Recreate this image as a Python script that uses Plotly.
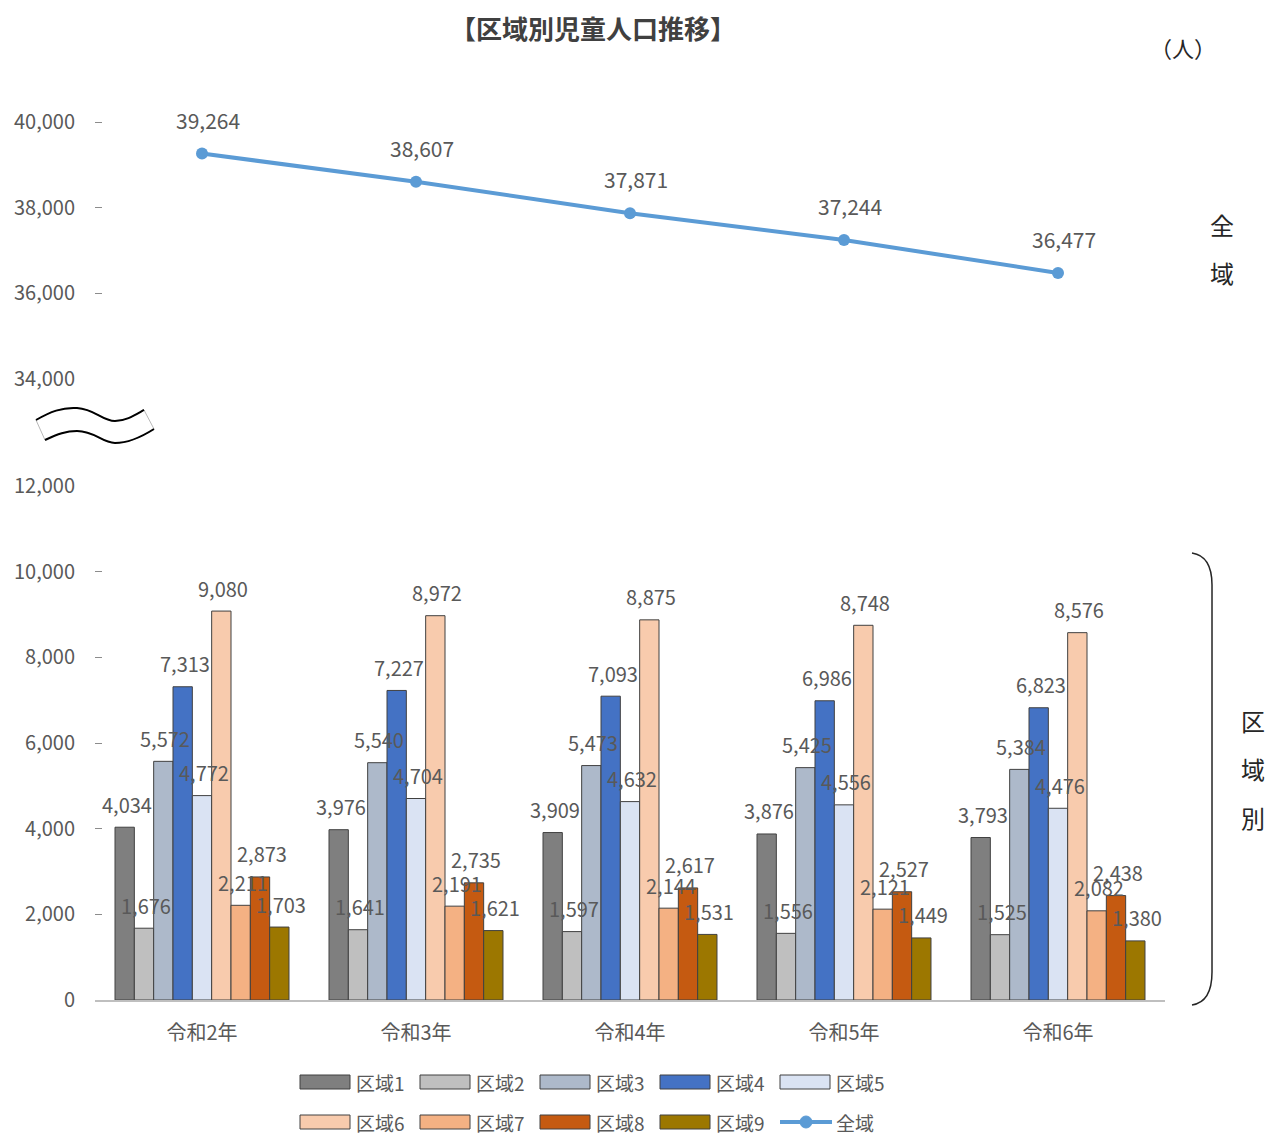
import plotly.graph_objects as go

years = ["令和2年", "令和3年", "令和4年", "令和5年", "令和6年"]
area_names = ["区域1", "区域2", "区域3", "区域4", "区域5", "区域6", "区域7", "区域8", "区域9"]
area1 = [4034, 3976, 3909, 3876, 3793]
area2 = [1676, 1641, 1597, 1556, 1525]
area3 = [5572, 5540, 5473, 5425, 5384]
area4 = [7313, 7227, 7093, 6986, 6823]
area5 = [4772, 4704, 4632, 4556, 4476]
area6 = [9080, 8972, 8875, 8748, 8576]
area7 = [2211, 2191, 2144, 2121, 2082]
area8 = [2873, 2735, 2617, 2527, 2438]
area9 = [1703, 1621, 1531, 1449, 1380]
total = [39264, 38607, 37871, 37244, 36477]
total_name = "全域"

bottom_ticks = [0, 2000, 4000, 6000, 8000, 10000, 12000]
top_ticks = [34000, 36000, 38000, 40000]

colors = ["#7f7f7f", "#bfbfbf", "#adb9ca", "#4472c4", "#dae3f3",
          "#f8cbad", "#f4b183", "#c55a11", "#9c7700"]
line_color = "#5b9bd5"

FONT = "Noto Sans CJK JP, Noto Sans, sans-serif"
GRAY = "#595959"

W, H = 1271, 1136
L, R, T, B = 95, 106, 100, 136
PW, PH = W - L - R, H - T - B
BARGAP = 0.187
BW = PW / len(years) * (1 - BARGAP) / len(area_names)


def px(x):
    return (x - L) / PW


def py(y):
    return (H - B - y) / PH


def p(x, y):
    return f"{px(x):.5f},{py(y):.5f}"


fig = go.Figure()
series = [area1, area2, area3, area4, area5, area6, area7, area8, area9]
annotations = []
for i, (name, vals) in enumerate(zip(area_names, series)):
    fig.add_trace(go.Bar(
        x=years, y=vals, name=name, showlegend=False,
        marker=dict(color=colors[i], line=dict(color="#404040", width=1)),
    ))
    for yr, v in zip(years, vals):
        annotations.append(dict(x=yr, y=v, xref="x", yref="y", text=f"{v:,}",
                                showarrow=False, xshift=(i - 4) * BW + 2, yshift=23,
                                font=dict(size=20, color=GRAY, family=FONT)))

fig.add_trace(go.Scatter(
    x=years, y=total, name=total_name, mode="lines+markers", showlegend=False,
    line=dict(color=line_color, width=4), marker=dict(size=12, color=line_color),
    yaxis="y2", cliponaxis=False,
))

for yr, v in zip(years, total):
    annotations.append(dict(x=yr, y=v, xref="x", yref="y2", text=f"{v:,}",
                            showarrow=False, yshift=34, xshift=6,
                            font=dict(size=21, color=GRAY, family=FONT)))


def pa(x, y, text, size, bold=False, color="#404040", anchor="center"):
    annotations.append(dict(x=px(x), y=py(y), xref="paper", yref="paper",
                            text=f"<b>{text}</b>" if bold else text, showarrow=False,
                            xanchor=anchor, yanchor="middle",
                            font=dict(size=size, color=color, family=FONT)))


pa(593, 28, "【区域別児童人口推移】", 26, bold=True, color="#404040")
pa(1183, 47, "（人）", 22, color="#262626")
pa(1222, 225, "全", 24, color="#262626")
pa(1222, 272, "域", 24, color="#262626")
pa(1253, 720, "区", 24, color="#262626")
pa(1253, 768, "域", 24, color="#262626")
pa(1253, 817, "別", 24, color="#262626")

shapes = []
# break symbol (wave ribbon)
top_curve = f"M{p(36,420)} C{p(50,412)} {p(62,407)} {p(77,408)} C{p(95,409)} {p(102,421)} {p(115,421)} C{p(126,421)} {p(135,415)} {p(144,410)}"
bot_curve = f"M{p(45,440)} C{p(58,434)} {p(66,431)} {p(77,431)} C{p(95,431)} {p(102,443)} {p(115,443)} C{p(130,443)} {p(143,436)} {p(154,429)}"
ribbon = (f"M{p(36,420)} C{p(50,412)} {p(62,407)} {p(77,408)} C{p(95,409)} {p(102,421)} {p(115,421)} "
          f"C{p(126,421)} {p(135,415)} {p(144,410)} L{p(154,429)} "
          f"C{p(143,436)} {p(130,443)} {p(115,443)} C{p(102,443)} {p(95,431)} {p(77,431)} "
          f"C{p(66,431)} {p(58,434)} {p(45,440)} Z")
shapes.append(dict(type="path", path=ribbon, xref="paper", yref="paper",
                   fillcolor="white", line=dict(color="#a6a6a6", width=0.8)))
shapes.append(dict(type="path", path=top_curve, xref="paper", yref="paper", line=dict(color="black", width=2)))
shapes.append(dict(type="path", path=bot_curve, xref="paper", yref="paper", line=dict(color="black", width=2)))
# brace
brace = f"M{p(1192,553)} Q{p(1212,556)} {p(1212,585)} L{p(1212,972)} Q{p(1212,1002)} {p(1192,1005)}"
shapes.append(dict(type="path", path=brace, xref="paper", yref="paper", line=dict(color="#262626", width=1.5)))

# custom legend (wide swatches as in the reference)
legend_names = area_names + [total_name]
for k, name in enumerate(legend_names):
    row, col = divmod(k, 5)
    x0 = 300 + col * 120
    yc = 1082 + row * 40
    if k < len(area_names):
        shapes.append(dict(type="rect", xref="paper", yref="paper",
                           x0=px(x0), x1=px(x0 + 50), y0=py(yc + 7), y1=py(yc - 7),
                           fillcolor=colors[k], line=dict(color="#404040", width=1)))
    else:
        shapes.append(dict(type="line", xref="paper", yref="paper",
                           x0=px(x0), x1=px(x0 + 52), y0=py(yc), y1=py(yc),
                           line=dict(color=line_color, width=4)))
        shapes.append(dict(type="circle", xref="paper", yref="paper",
                           x0=px(x0 + 20), x1=px(x0 + 32), y0=py(yc + 6), y1=py(yc - 6),
                           fillcolor=line_color, line=dict(color=line_color, width=1)))
    pa(x0 + 54, yc, name, 19, color=GRAY, anchor="left")

bottom_top = py(486)
top_bottom = py(379)
top_max = 40000 + (122 - T) / ((379 - 122) / 6000)

fig.update_layout(
    width=W, height=H,
    margin=dict(l=L, r=R, t=T, b=B),
    paper_bgcolor="white", plot_bgcolor="white",
    barmode="group", bargap=BARGAP, bargroupgap=0,
    showlegend=False,
    font=dict(family=FONT, color=GRAY),
    xaxis=dict(showgrid=False, showline=True, linecolor="#bfbfbf", linewidth=1.5,
               ticks="", ticklabelstandoff=14, tickfont=dict(size=20, color=GRAY, family=FONT)),
    yaxis=dict(domain=[0, bottom_top], range=[0, 12000], tickvals=bottom_ticks,
               tickformat=",", showgrid=False, zeroline=False, showline=False,
               ticks="inside", ticklen=7, tickcolor="#8c8c8c", ticklabelstandoff=19,
               tickfont=dict(size=20, color=GRAY, family=FONT)),
    yaxis2=dict(domain=[top_bottom, 1], range=[34000, top_max], tickvals=top_ticks,
                tickformat=",", showgrid=False, zeroline=False, showline=False, anchor="x",
                ticks="inside", ticklen=7, tickcolor="#8c8c8c", ticklabelstandoff=19,
                tickfont=dict(size=20, color=GRAY, family=FONT)),
    annotations=annotations,
    shapes=shapes,
)

fig.write_html("out.html", config={"displayModeBar": False},
               post_script="document.body.style.margin='0';document.body.style.overflow='hidden';")
